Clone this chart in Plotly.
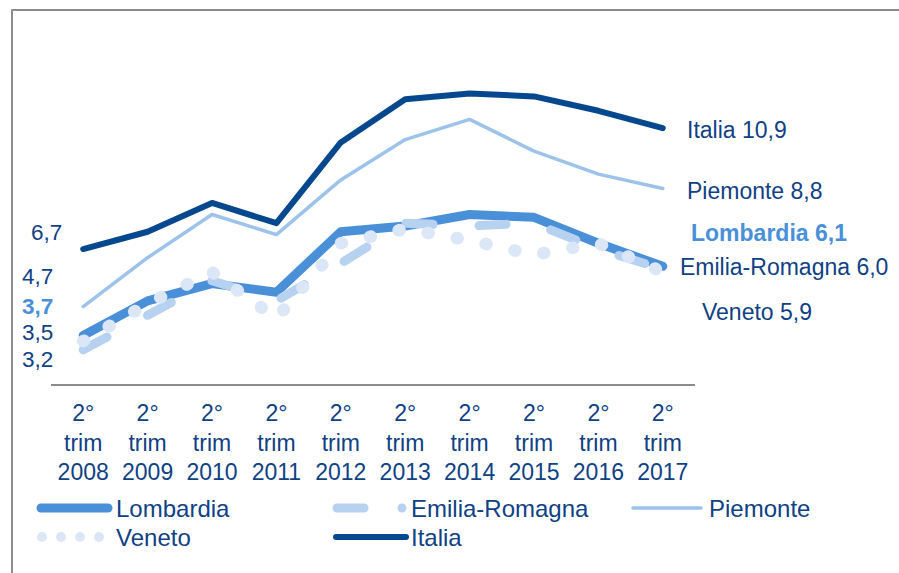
import plotly.graph_objects as go

# ---- data ----
years = ["2008", "2009", "2010", "2011", "2012", "2013", "2014", "2015", "2016", "2017"]
tick_labels = ["2°<br>trim<br>" + y for y in years]

italia = [6.7, 7.3, 8.3, 7.6, 10.4, 11.9, 12.1, 12.0, 11.5, 10.9]
piemonte = [4.7, 6.4, 7.9, 7.2, 9.1, 10.5, 11.2, 10.1, 9.3, 8.8]
lombardia = [3.7, 4.9, 5.5, 5.2, 7.3, 7.5, 7.9, 7.8, 6.9, 6.1]
emilia = [3.2, 4.4, 5.6, 4.9, 6.2, 7.6, 7.5, 7.6, 6.7, 6.0]
veneto = [3.5, 4.8, 5.9, 4.3, 6.9, 7.4, 7.0, 6.5, 6.9, 5.9]

left_labels = ["6,7", "4,7", "3,7", "3,5", "3,2"]
right_labels = ["Italia 10,9", "Piemonte 8,8", "Lombardia 6,1", "Emilia-Romagna 6,0", "Veneto 5,9"]
legend_names = ["Lombardia", "Emilia-Romagna", "Piemonte", "Veneto", "Italia"]

# ---- styles ----
C_ITA = "#06488d"
C_PIE = "#9dc3ea"
C_LOM = "#4a90d9"
C_EMI = "#b7d2f0"
C_VEN = "#dbe7f7"
TXT = "#0f4185"
FONT = "Liberation Sans, Arial, sans-serif"
FS = 23
FS_LEG = 24

W, H = 899, 573
L, R, T, B = 51, 695, 60, 384


def px(x):
    return (x - L) / (R - L)


def py(y):
    return (B - y) / (B - T)


fig = go.Figure()


def add_line(vals, color, width, dash="solid"):
    fig.add_trace(go.Scatter(
        x=years, y=vals, mode="lines",
        line=dict(color=color, width=width, dash=dash),
        showlegend=False, hoverinfo="skip"))


add_line(piemonte, C_PIE, 3.5)
add_line(italia, C_ITA, 6)
add_line(lombardia, C_LOM, 9)
add_line(emilia, C_EMI, 9, "27px,46px")
add_line(veneto, C_VEN, 12.5, "1px,28.5px")

shapes = []
annotations = []

# frame
shapes.append(dict(type="rect", xref="paper", yref="paper",
                   x0=px(12), x1=px(920), y0=py(10), y1=py(600),
                   line=dict(color="#8c8c8c", width=2), fillcolor="rgba(0,0,0,0)", layer="below"))


def ann(text, x, y, anchor="left", color=TXT, bold=False, size=FS):
    annotations.append(dict(
        text=("<b>%s</b>" % text) if bold else text,
        xref="paper", yref="paper", x=px(x), y=py(y),
        xanchor=anchor, yanchor="middle", showarrow=False, borderpad=0,
        font=dict(family=FONT, size=size, color=color)))


# left start labels
left_pos = [(63, 233), (54, 276), (54, 306), (54, 332), (54, 359)]
for i, t in enumerate(left_labels):
    bold = (t == "3,7")
    ann(t, left_pos[i][0], left_pos[i][1], anchor="right",
        color=C_LOM if bold else TXT, bold=bold, size=22.5)

# right end labels
right_pos = [(686, 130), (686, 191), (690, 233), (679, 267), (701, 312)]
for i, t in enumerate(right_labels):
    bold = t.startswith("Lombardia")
    ann(t, right_pos[i][0], right_pos[i][1], color=C_LOM if bold else TXT, bold=bold)


def hline(x0, x1, y, color, width):
    shapes.append(dict(type="line", xref="paper", yref="paper",
                       x0=px(x0), x1=px(x1), y0=py(y), y1=py(y),
                       line=dict(color=color, width=width)))


def dot(cx, cy, d, color):
    shapes.append(dict(type="circle", xref="paper", yref="paper",
                       x0=px(cx - d / 2), x1=px(cx + d / 2),
                       y0=py(cy + d / 2), y1=py(cy - d / 2),
                       fillcolor=color, line=dict(width=0)))


# manual legend
r1, r2 = 508, 537
hline(41, 108, r1, C_LOM, 9)
ann(legend_names[0], 115, r1, size=FS_LEG)
hline(337, 364, r1, C_EMI, 9)
dot(402, r1, 9, C_EMI)
ann(legend_names[1], 410, r1, size=FS_LEG)
hline(633, 701, r1, C_PIE, 3.5)
ann(legend_names[2], 708, r1, size=FS_LEG)
for cx in (42, 61, 80, 99):
    dot(cx, r2, 10, C_VEN)
ann(legend_names[3], 115, r2, size=FS_LEG)
hline(336, 406, r2, C_ITA, 6)
ann(legend_names[4], 410, r2, size=FS_LEG)

fig.update_layout(
    width=W, height=H,
    margin=dict(l=L, r=W - R, t=T, b=H - B, pad=0),
    paper_bgcolor="white", plot_bgcolor="white",
    font=dict(family=FONT, size=FS, color=TXT),
    showlegend=False,
    shapes=shapes, annotations=annotations,
    xaxis=dict(type="category", range=[-0.5, 9.5], tickmode="array",
               tickvals=years, ticktext=tick_labels,
               showgrid=False, zeroline=False, showline=True,
               linecolor="#8c8c8c", linewidth=2, ticks="",
               ticklabelstandoff=7,
               tickfont=dict(family=FONT, size=FS, color=TXT), fixedrange=True),
    yaxis=dict(range=[(442 - B) / 28.8, (442 - T) / 28.8], visible=False,
               showgrid=False, zeroline=False, fixedrange=True),
)

post = """
document.body.style.margin = '0';
document.body.style.padding = '0';
var gd = document.getElementById('{plot_id}');
function fixCaps(){
  gd.querySelectorAll('.scatterlayer path.js-line, .shapelayer path').forEach(function(p){
    p.style.strokeLinecap = 'round';
    p.style.strokeLinejoin = 'round';
  });
}
fixCaps();
gd.on('plotly_afterplot', fixCaps);
"""

fig.write_html("out.html", config={"displayModeBar": False}, post_script=post)
